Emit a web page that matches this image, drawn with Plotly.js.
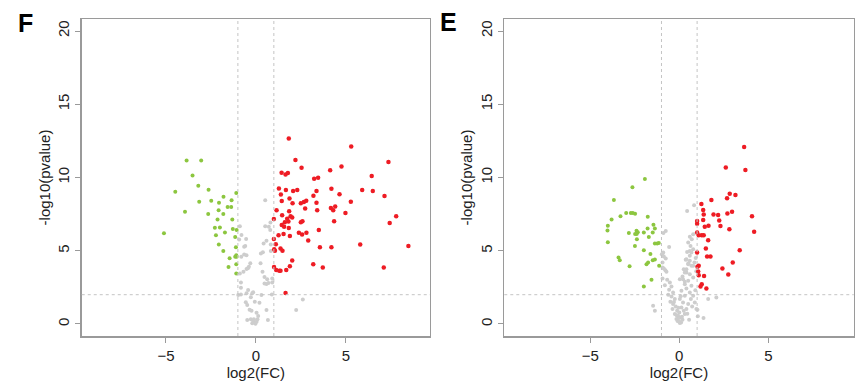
<!DOCTYPE html>
<html>
<head>
<meta charset="utf-8">
<script src="https://cdn.plot.ly/plotly-3.0.1.min.js"></script>
<style>html,body{margin:0;padding:0;background:#fff;}#chart{width:865px;height:389px;}</style>
</head>
<body>
<div id="chart"></div>
<script>
// ---------- Panel F ----------
const fUpX = [1.83,5.30,2.20,7.37,2.54,4.76,1.43,1.65,1.78,4.13,6.44,3.24,3.46,1.28,1.67,2.07,2.30,3.37,4.20,5.91,6.50,4.65,1.39,1.87,3.20,7.15,1.44,2.04,2.50,2.67,2.80,3.37,5.28,1.15,1.85,2.74,3.41,4.17,4.30,4.41,4.98,1.46,1.93,2.02,7.80,1.00,1.74,1.61,1.81,2.50,2.59,4.35,7.44,1.44,1.57,1.83,3.50,1.26,1.54,1.89,2.39,2.57,2.81,2.91,1.00,1.11,1.02,1.06,1.37,1.48,3.56,4.20,5.80,8.48,2.02,3.19,3.72,7.11,1.01,1.13,1.30,1.37,1.69,1.89,1.65];
const fUpY = [12.66,12.11,11.20,11.05,10.66,10.75,10.32,10.20,10.30,10.50,10.11,9.91,9.98,9.25,9.14,9.07,9.14,9.07,9.23,9.14,9.07,8.86,8.84,8.57,8.75,8.73,8.39,8.25,8.25,8.32,8.41,8.27,8.34,7.77,7.70,7.89,7.77,7.91,7.77,8.02,7.57,7.43,7.36,7.27,7.36,7.16,7.18,6.95,7.00,6.95,7.02,7.02,6.89,6.75,6.64,6.55,6.41,6.05,6.14,6.00,6.23,6.11,6.23,5.70,5.80,5.45,5.11,5.00,5.16,5.00,5.23,5.23,5.43,5.32,4.34,4.07,3.86,3.86,3.89,3.68,3.64,3.64,3.68,3.95,2.11];
const fDownX = [-3.85,-3.04,-3.52,-3.20,-2.63,-4.48,-1.09,-1.80,-3.15,-2.48,-2.05,-1.35,-1.57,-1.37,-2.07,-3.94,-2.65,-1.81,-2.13,-1.31,-5.11,-2.28,-2.00,-1.28,-1.07,-1.72,-2.22,-1.15,-2.06,-1.81,-1.11,-1.09,-1.07,-1.15,-1.46,-1.52,-1.09,-1.09];
const fDownY = [11.16,11.16,10.14,9.43,9.16,9.02,8.95,8.68,8.34,8.41,8.27,8.45,7.98,7.98,7.77,7.66,7.50,7.50,7.14,7.14,6.20,6.57,6.59,6.48,6.41,6.25,6.05,5.93,5.43,4.98,5.23,4.70,4.59,4.59,4.48,3.89,4.07,3.45];
const fNsX = [0.52,-0.89,-0.80,-0.54,-0.93,-0.65,0.52,0.81,0.72,0.80,0.59,0.43,0.83,0.39,0.28,0.83,-0.65,-0.52,-0.81,-0.31,-0.39,-0.52,-0.69,-0.89,0.26,0.37,0.48,0.63,0.70,0.48,0.59,0.91,0.91,-0.83,-0.83,-0.98,-0.83,-0.43,-0.52,-0.20,-0.15,-0.28,-0.06,-0.56,-0.48,0.20,0.31,0.89,-0.35,-0.24,0.04,0.13,-0.48,-0.28,-0.15,-0.06,0.04,-0.20,-0.02,0.09,-0.11,0.67,0.59,2.61,2.24,-0.44,-0.59];
const fNsY = [8.45,6.68,6.07,5.80,5.77,5.27,6.68,6.93,6.64,6.41,5.68,5.50,5.43,4.89,4.82,4.98,4.75,4.70,4.59,4.14,3.91,3.75,3.57,3.45,4.14,3.57,3.20,3.05,2.80,2.77,2.73,3.11,2.84,2.84,2.48,1.98,2.02,2.32,2.09,2.09,2.16,1.82,1.52,1.48,1.30,1.45,1.98,2.02,0.98,0.91,0.77,0.55,0.27,0.32,0.20,0.11,0.16,0.05,0.02,0.32,0.32,0.27,0.95,1.68,0.95,3.80,5.32];

// ---------- Panel E ----------
const eUpX = [3.64,2.61,3.71,2.83,3.15,2.68,1.80,1.24,1.34,1.37,1.92,2.18,2.70,2.96,4.08,1.00,1.00,1.34,2.24,2.31,1.43,1.64,2.81,4.20,1.00,1.09,1.26,1.37,1.62,3.39,1.49,1.00,1.56,1.75,3.00,2.42,2.75,1.02,1.09,1.06,1.09,1.39,1.26,1.19,1.52];
const eUpY = [12.09,10.68,10.52,8.89,8.80,8.59,8.46,8.19,7.78,7.48,7.48,7.44,7.55,7.66,7.35,7.03,6.85,7.10,7.07,6.69,6.64,6.71,6.46,6.30,6.24,6.05,6.05,6.05,5.71,5.03,5.15,4.88,4.60,4.60,4.20,3.79,3.38,3.90,3.97,3.58,3.33,3.27,2.72,2.56,2.43];
const eDownX = [-1.93,-2.63,-3.67,-2.98,-2.72,-2.61,-2.48,-3.80,-3.30,-4.01,-4.03,-1.77,-2.40,-2.33,-2.48,-2.39,-2.83,-1.78,-1.45,-1.37,-1.99,-1.49,-1.71,-2.38,-4.01,-2.49,-1.37,-1.24,-1.15,-1.99,-1.62,-3.41,-3.34,-1.49,-1.37,-1.84,-1.75,-2.79,-1.13,-1.56,-1.99];
const eDownY = [9.89,9.34,8.46,7.57,7.57,7.57,7.53,7.14,7.35,6.71,6.39,7.32,6.36,6.26,6.15,6.15,6.21,6.51,6.78,6.51,6.24,6.24,5.94,5.78,5.58,5.33,5.49,5.49,5.53,5.03,4.78,4.54,4.35,4.35,4.40,4.08,4.20,3.95,3.97,3.02,2.56];
const eNsX = [0.44,0.83,-0.76,-0.89,-0.57,-0.90,-0.98,-0.87,-0.94,-0.78,-0.72,0.59,0.70,0.78,0.50,0.63,0.78,0.44,0.59,0.36,0.51,0.78,0.25,0.40,0.18,0.03,0.31,0.92,0.85,0.95,-0.76,-0.94,-0.87,-0.94,-0.68,-0.53,-0.81,-0.44,-0.57,-0.35,-0.44,-0.25,-0.50,-0.35,-0.20,-0.38,-0.12,-0.25,-0.07,-0.16,0.00,0.03,-1.47,-1.37,0.59,0.68,0.40,0.59,0.50,0.68,0.40,0.31,0.59,0.78,0.21,0.50,0.31,0.68,0.40,0.12,0.59,0.31,0.78,0.03,0.21,0.50,0.12,0.40,0.00,0.31,0.06,0.18,0.87,0.96,0.55,1.36,1.62,2.08,-0.10,0.10,-0.05,0.25,-0.30,0.65,0.90,1.02,1.04,-0.62,-0.15,0.15,0.45,0.72,-0.05,0.08];
const eNsY = [7.71,8.10,6.35,6.21,5.26,4.88,4.76,4.60,3.85,3.67,3.56,5.96,5.78,6.12,5.56,5.33,5.10,4.92,4.65,4.38,4.15,3.97,3.74,3.51,3.24,3.06,2.88,4.50,4.20,3.60,4.47,4.20,3.79,3.11,3.02,2.83,2.65,2.56,2.34,2.15,1.88,1.70,1.52,1.36,1.20,1.02,0.91,0.68,0.57,0.34,0.16,0.07,1.25,0.91,4.99,4.88,4.42,4.31,4.08,3.97,3.74,3.51,3.40,3.17,3.06,2.95,2.72,2.61,2.43,2.27,2.15,1.93,1.93,1.70,1.47,1.36,1.13,1.02,0.79,0.68,0.45,0.29,1.47,1.02,0.29,0.41,1.70,1.81,0.20,0.10,0.40,0.90,1.50,1.70,2.30,0.98,0.52,2.00,0.60,0.50,0.70,1.20,1.10,1.90];

const xTicks = [-5, 0, 5];
const yTicks = [0, 5, 10, 15, 20];

const RED = '#ee1c24', GREEN = '#8cc63f', GREY = '#cdcdcd';
const FONT = 'Liberation Sans, Arial, Helvetica, sans-serif';

function pts(x, y, color, size, xa, ya) {
  return {x: x, y: y, type: 'scatter', mode: 'markers', xaxis: xa, yaxis: ya,
          marker: {color: color, size: size, line: {width: 0}}, hoverinfo: 'skip', showlegend: false};
}

const data = [
  pts(fNsX, fNsY, GREY, 4, 'x', 'y'),
  pts(fDownX, fDownY, GREEN, 4, 'x', 'y'),
  pts(fUpX, fUpY, RED, 4.5, 'x', 'y'),
  pts(eNsX, eNsY, GREY, 4, 'x2', 'y2'),
  pts(eDownX, eDownY, GREEN, 4, 'x2', 'y2'),
  pts(eUpX, eUpY, RED, 4.5, 'x2', 'y2')
];

function xax(domain, range, anchor) {
  return {domain: domain, range: range, anchor: anchor, tickvals: xTicks,
    showgrid: false, zeroline: false, showline: true, mirror: true,
    linecolor: '#9a9a9a', linewidth: 1.5, ticks: 'outside', ticklen: 5, tickcolor: '#9a9a9a', tickwidth: 1,
    tickfont: {family: FONT, size: 15, color: '#222'},
    title: {text: 'log2(FC)', font: {family: FONT, size: 15, color: '#222'}, standoff: 3}};
}
function yax(range, anchor) {
  return {domain: [0, 1], range: range, anchor: anchor, tickvals: yTicks, tickangle: -90,
    showgrid: false, zeroline: false, showline: true, mirror: true,
    linecolor: '#9a9a9a', linewidth: 1.5, ticks: 'outside', ticklen: 5, tickcolor: '#9a9a9a', tickwidth: 1,
    tickfont: {family: FONT, size: 15, color: '#222'},
    title: {text: '-log10(pvalue)', font: {family: FONT, size: 15, color: '#222'}, standoff: 1}};
}

function guides(xr, yr) {
  const st = {color: '#c4c4c4', width: 1, dash: 'dot'};
  return [
    {type: 'line', xref: xr, yref: yr + ' domain', x0: -1, x1: -1, y0: 0, y1: 1, line: st},
    {type: 'line', xref: xr, yref: yr + ' domain', x0: 1, x1: 1, y0: 0, y1: 1, line: st},
    {type: 'line', xref: xr + ' domain', yref: yr, x0: 0, x1: 1, y0: 2, y1: 2, line: st}
  ];
}

const layout = {
  width: 865, height: 389,
  margin: {l: 0, r: 0, t: 19, b: 53},
  paper_bgcolor: '#fff', plot_bgcolor: '#fff',
  showlegend: false,
  xaxis: xax([0.0945, 0.4971], [-9.68, 9.68], 'y'),
  yaxis: yax([-0.82, 20.82], 'x'),
  xaxis2: xax([0.583, 0.9870], [-9.82, 9.79], 'y2'),
  yaxis2: yax([-0.82, 20.82], 'x2'),
  shapes: guides('x', 'y').concat(guides('x2', 'y2')),
  annotations: [
    {text: '<b>F</b>', xref: 'paper', yref: 'paper', x: 25.5/865, y: (389-53-23)/317, xanchor: 'center', yanchor: 'middle',
     showarrow: false, font: {family: FONT, size: 25, color: '#000'}},
    {text: '<b>E</b>', xref: 'paper', yref: 'paper', x: 448.5/865, y: (389-53-22)/317, xanchor: 'center', yanchor: 'middle',
     showarrow: false, font: {family: FONT, size: 25, color: '#000'}}
  ]
};

Plotly.newPlot('chart', data, layout, {staticPlot: true, displayModeBar: false});
</script>
</body>
</html>
